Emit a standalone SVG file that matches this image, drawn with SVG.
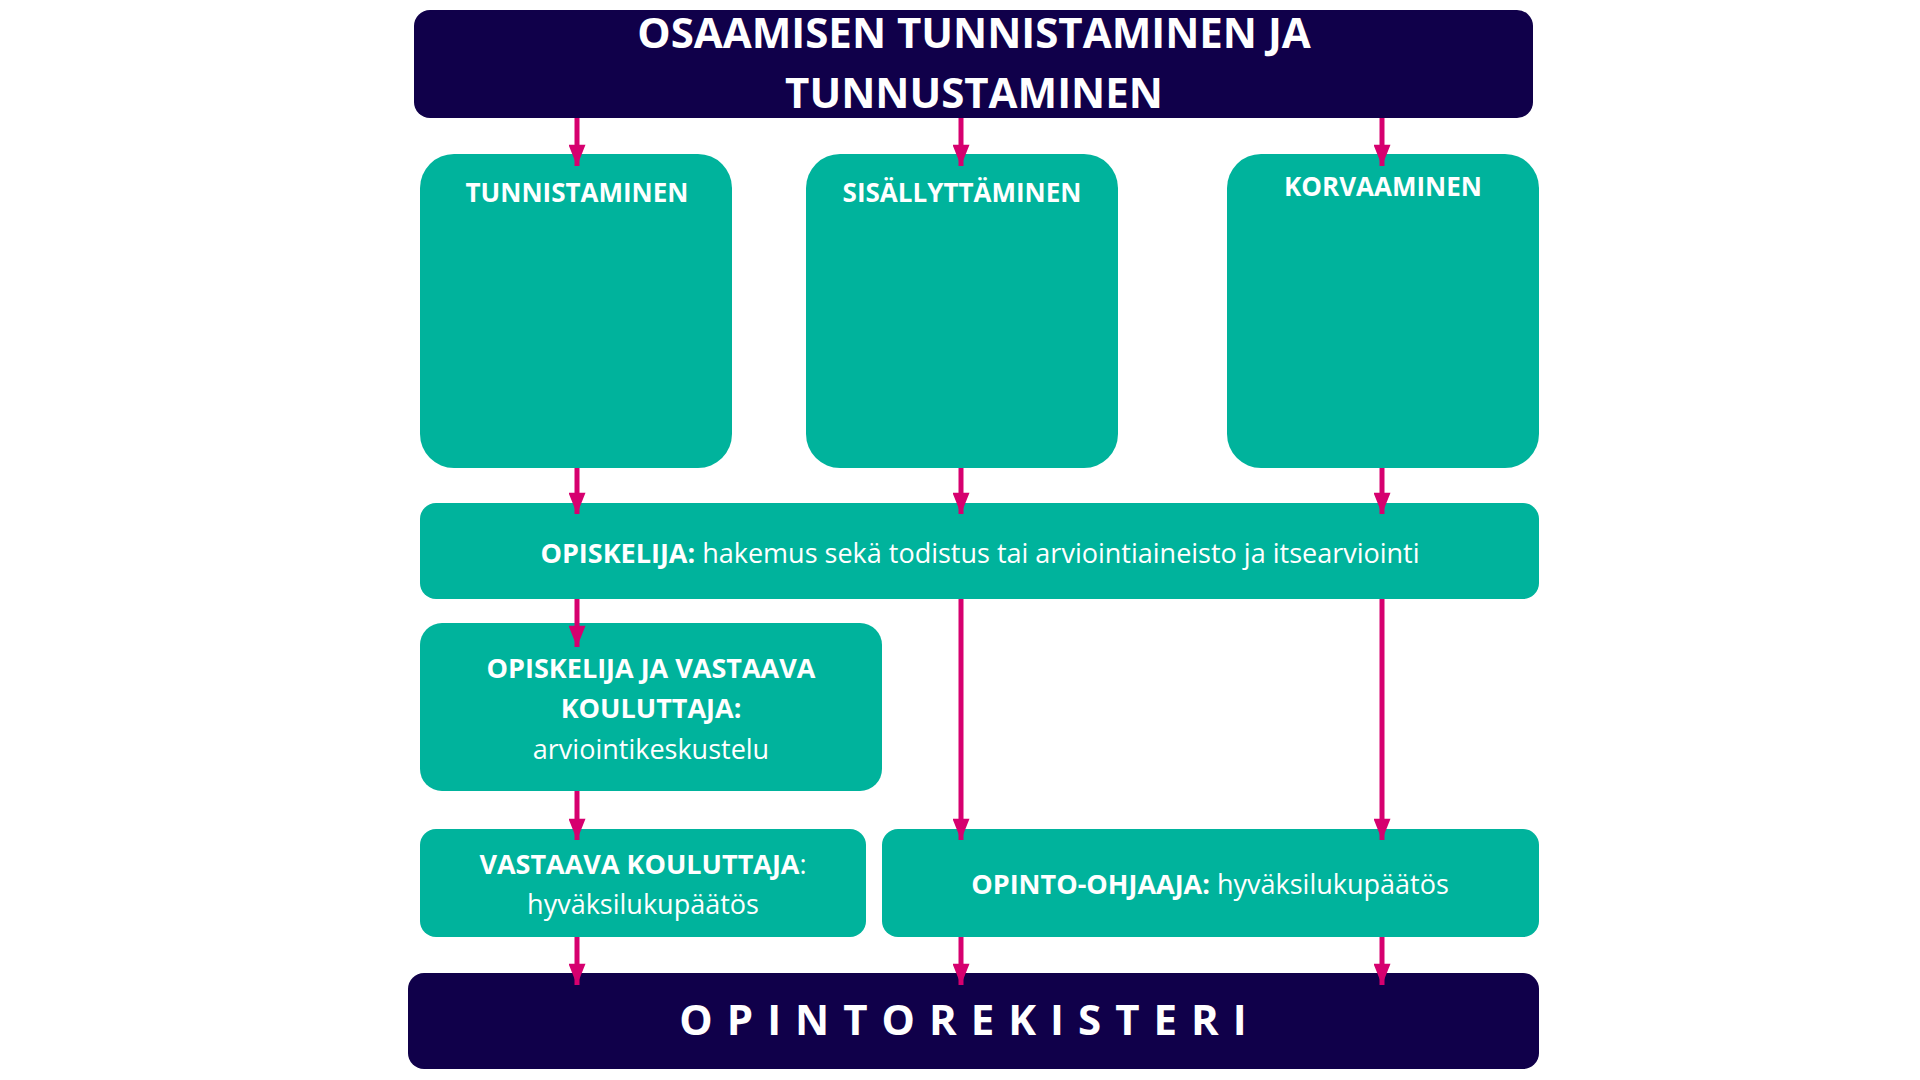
<svg xmlns="http://www.w3.org/2000/svg" width="1920" height="1080" viewBox="0 0 1920 1080">
<defs>
<marker id="ah" viewBox="0 0 10 8" refX="10" refY="4" markerWidth="4.4" markerHeight="3.4" orient="auto" markerUnits="strokeWidth"><path d="M0,0 L10,4 L0,8 Z" fill="#d6006f"/></marker>
<style>
.navy{fill:#10004a}.teal{fill:#00b39c}
text{font-family:"Open Sans","Liberation Sans",sans-serif;fill:#fff;text-anchor:middle}
.b{font-weight:bold}
.c{stroke:#d6006f;stroke-width:5;fill:none;marker-end:url(#ah)}
</style>
</defs>
<rect width="1920" height="1080" fill="#fff"/>
<g id="title"><rect class="navy" x="414" y="10" width="1119" height="108" rx="16"/>
<text class="b" x="974" y="48" font-size="42">OSAAMISEN TUNNISTAMINEN JA</text>
<text class="b" x="974" y="108" font-size="42">TUNNUSTAMINEN</text></g>
<g id="tunnistaminen"><rect class="teal" x="420" y="154" width="312" height="314" rx="34"/><text class="b" x="577" y="202" font-size="26">TUNNISTAMINEN</text></g>
<g id="sisallyttaminen"><rect class="teal" x="806" y="154" width="312" height="314" rx="34"/><text class="b" x="962" y="202" font-size="26">SISÄLLYTTÄMINEN</text></g>
<g id="korvaaminen"><rect class="teal" x="1227" y="154" width="312" height="314" rx="34"/><text class="b" x="1383" y="196" font-size="26">KORVAAMINEN</text></g>
<g id="opiskelija"><rect class="teal" x="420" y="503" width="1119" height="96" rx="16"/><text x="980" y="563" font-size="27"><tspan class="b">OPISKELIJA:</tspan> hakemus sekä todistus tai arviointiaineisto ja itsearviointi</text></g>
<g id="keskustelu"><rect class="teal" x="420" y="623" width="462" height="168" rx="22"/>
<text class="b" x="651" y="678" font-size="27">OPISKELIJA JA VASTAAVA</text>
<text class="b" x="651" y="718" font-size="27">KOULUTTAJA:</text>
<text x="651" y="759" font-size="27">arviointikeskustelu</text></g>
<g id="vastaava"><rect class="teal" x="420" y="829" width="446" height="108" rx="16"/>
<text x="643" y="874" font-size="27"><tspan class="b">VASTAAVA KOULUTTAJA</tspan>:</text>
<text x="643" y="914" font-size="27">hyväksilukupäätös</text></g>
<g id="ohjaaja"><rect class="teal" x="882" y="829" width="657" height="108" rx="16"/>
<text x="1210" y="894" font-size="27"><tspan class="b">OPINTO-OHJAAJA:</tspan> hyväksilukupäätös</text></g>
<g id="rekisteri"><rect class="navy" x="408" y="973" width="1131" height="96" rx="16"/>
<text class="b" x="970" y="1035" font-size="42" letter-spacing="14">OPINTOREKISTERI</text></g>
<g id="connectors">
<line class="c" x1="577" y1="118" x2="577" y2="166"/>
<line class="c" x1="961" y1="118" x2="961" y2="166"/>
<line class="c" x1="1382" y1="118" x2="1382" y2="166"/>
<line class="c" x1="577" y1="468" x2="577" y2="514"/>
<line class="c" x1="961" y1="468" x2="961" y2="514"/>
<line class="c" x1="1382" y1="468" x2="1382" y2="514"/>
<line class="c" x1="577" y1="599" x2="577" y2="647"/>
<line class="c" x1="961" y1="599" x2="961" y2="840"/>
<line class="c" x1="1382" y1="599" x2="1382" y2="840"/>
<line class="c" x1="577" y1="791" x2="577" y2="840"/>
<line class="c" x1="577" y1="937" x2="577" y2="985"/>
<line class="c" x1="961" y1="937" x2="961" y2="985"/>
<line class="c" x1="1382" y1="937" x2="1382" y2="985"/>
</g>
</svg>
